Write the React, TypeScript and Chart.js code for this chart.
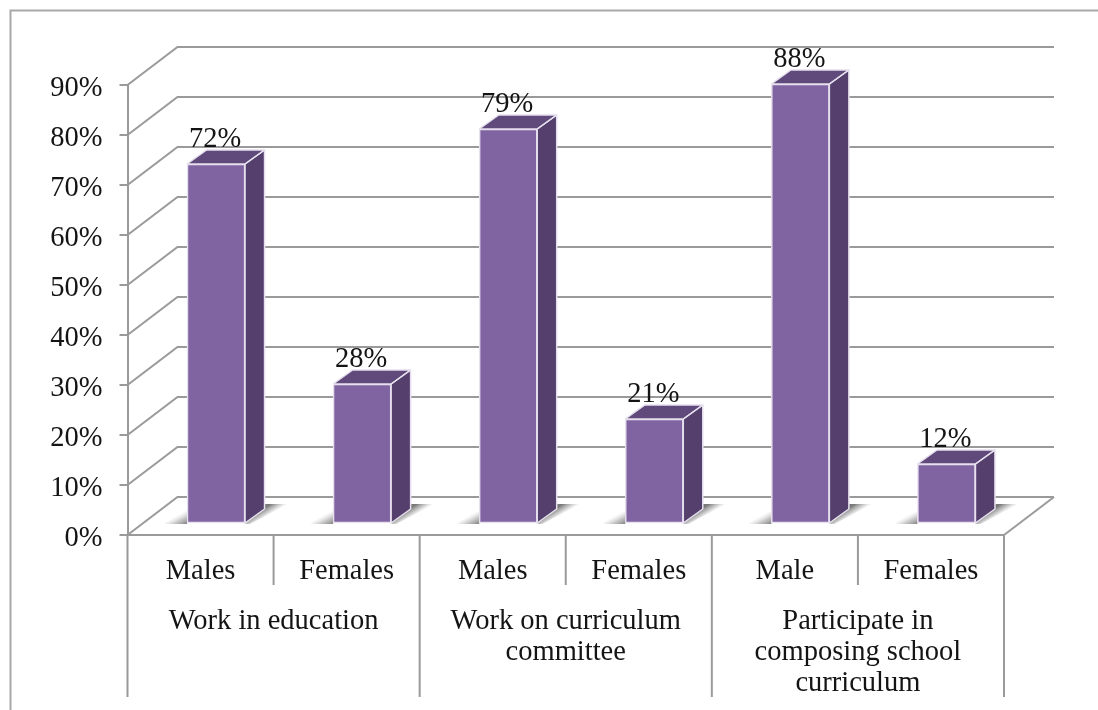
import React, { useEffect, useRef } from "react";
import { Chart, registerables } from "chart.js";

Chart.register(...registerables);

const categories = ["Males", "Females", "Males", "Females", "Male", "Females"];
const values = [72, 28, 79, 21, 88, 12];
const groups = [
  ["Work in education"],
  ["Work on curriculum", "committee"],
  ["Participate in", "composing school", "curriculum"],
];

const FONT = '"Liberation Serif", serif';
const FONT_SIZE = 28.5;
const INK = "#141414";
const LINE = "#9a9a9a";
const FRONT = "#8064a2";
const SIDE = "#543f6d";
const TOP = "#604a7b";
const EDGE = "#e6e0ee";

// Depth of the plot box, and where the bars stand inside it.
const WALL = { dx: 50, dy: -38 };
const SEAT = { dx: 15.5, dy: -11 };
const BAR_DEPTH = { dx: 19.5, dy: -14 };

const stroke = (ctx: CanvasRenderingContext2D, pts: number[][], color = LINE, width = 2) => {
  ctx.beginPath();
  pts.forEach(([x, y], i) => (i ? ctx.lineTo(x, y) : ctx.moveTo(x, y)));
  ctx.strokeStyle = color;
  ctx.lineWidth = width;
  ctx.stroke();
};

const fill = (ctx: CanvasRenderingContext2D, pts: number[][], color: any) => {
  ctx.beginPath();
  pts.forEach(([x, y], i) => (i ? ctx.lineTo(x, y) : ctx.moveTo(x, y)));
  ctx.closePath();
  ctx.fillStyle = color;
  ctx.fill();
};

const box3d = {
  id: "box3d",
  beforeDraw(chart: any) {
    const { ctx, width, height } = chart;
    ctx.save();
    ctx.fillStyle = "#ffffff";
    ctx.fillRect(0, 0, width, height);
    stroke(ctx, [[10.5, height], [10.5, 10.5], [width, 10.5]], "#a8a8a8", 2);
    ctx.restore();
  },
  beforeDatasetsDraw(chart: any) {
    const { ctx, chartArea, scales } = chart;
    const { left, right, bottom } = chartArea;
    ctx.save();

    // Back wall and side wall rules, one per value tick.
    scales.y.ticks.forEach((t: any) => {
      const y = scales.y.getPixelForValue(t.value);
      stroke(ctx, [
        [left, y],
        [left + WALL.dx, y + WALL.dy],
        [right + WALL.dx, y + WALL.dy],
      ]);
    });
    stroke(ctx, [[right, bottom], [right + WALL.dx, bottom + WALL.dy]]);

    // Soft floor shadows either side of each bar.
    const meta = chart.getDatasetMeta(0);
    meta.data.forEach((bar: any) => {
      const { x, base, width: w } = bar.getProps(["x", "base", "width"], true);
      const l = x + SEAT.dx - w / 2;
      const r = x + SEAT.dx + w / 2;
      const b = base + SEAT.dy;
      const gl = ctx.createLinearGradient(l, b + 1, l - 6, b - 10);
      gl.addColorStop(0, "rgba(120,120,120,0.95)");
      gl.addColorStop(0.5, "rgba(160,160,160,0.6)");
      gl.addColorStop(1, "rgba(200,200,200,0)");
      fill(ctx, [[l - 23, b + 1], [l - 8, b - 11], [l, b - 13], [l, b + 1]], gl);
      const gr = ctx.createLinearGradient(r + 37, b - 26, r + 42, b - 18);
      gr.addColorStop(0, "rgba(115,115,115,0.95)");
      gr.addColorStop(0.5, "rgba(160,160,160,0.6)");
      gr.addColorStop(1, "rgba(200,200,200,0)");
      fill(ctx, [
        [r, b + 1],
        [r + BAR_DEPTH.dx, b + BAR_DEPTH.dy - 5],
        [r + 43, b + BAR_DEPTH.dy - 5],
        [r + 5, b + 1],
      ], gr);
    });

    // Bars are seated back from the front edge of the floor.
    ctx.translate(SEAT.dx, SEAT.dy);
  },
  afterDatasetsDraw(chart: any) {
    const { ctx, chartArea, scales, data } = chart;
    ctx.restore();
    ctx.save();

    const meta = chart.getDatasetMeta(0);
    meta.data.forEach((bar: any, i: number) => {
      const { x, y, base, width: w } = bar.getProps(["x", "y", "base", "width"], true);
      const l = x + SEAT.dx - w / 2;
      const r = x + SEAT.dx + w / 2;
      const t = y + SEAT.dy;
      const b = base + SEAT.dy;
      const { dx, dy } = BAR_DEPTH;
      const top = [[l, t], [r, t], [r + dx, t + dy], [l + dx, t + dy]];
      const side = [[r, t], [r + dx, t + dy], [r + dx, b + dy], [r, b]];
      fill(ctx, top, TOP);
      fill(ctx, side, SIDE);
      ctx.lineJoin = "round";
      stroke(ctx, [...top, top[0]], EDGE, 1.5);
      stroke(ctx, [...side, side[0]], EDGE, 1.5);

      // Value above each bar.
      ctx.fillStyle = INK;
      ctx.font = `${FONT_SIZE}px ${FONT}`;
      ctx.textAlign = "center";
      ctx.textBaseline = "middle";
      ctx.fillText(`${data.datasets[0].data[i]}%`, x + SEAT.dx - 1, t - 24);
    });

    // Category dividers below the axis, long ones between groups.
    const { bottom } = chartArea;
    const xs = scales.x;
    const band = xs.getPixelForValue(1) - xs.getPixelForValue(0);
    categories.forEach((_, i) => {
      const edge = xs.getPixelForValue(i) - band / 2;
      stroke(ctx, [[edge, bottom], [edge, i % 2 ? bottom + 50 : bottom + 162]]);
    });
    const end = xs.getPixelForValue(categories.length - 1) + band / 2;
    stroke(ctx, [[end, bottom], [end, bottom + 162]]);

    // Group captions, centred under their pair of categories.
    ctx.fillStyle = INK;
    ctx.font = `${FONT_SIZE}px ${FONT}`;
    ctx.textAlign = "center";
    ctx.textBaseline = "middle";
    groups.forEach((lines, g) => {
      const cx = xs.getPixelForValue(g * 2) + band / 2;
      lines.forEach((text, n) => ctx.fillText(text, cx, bottom + 87 + n * 31));
    });
    ctx.restore();
  },
};

export default function App() {
  const ref = useRef<HTMLCanvasElement>(null);

  useEffect(() => {
    const chart = new Chart(ref.current!, {
      type: "bar",
      data: {
        labels: categories,
        datasets: [
          {
            data: values,
            backgroundColor: FRONT,
            borderColor: EDGE,
            borderWidth: 1.5,
            borderSkipped: false,
            barThickness: 58,
          },
        ],
      },
      plugins: [box3d],
      options: {
        animation: false,
        responsive: false,
        layout: { padding: { left: 0, right: 94, top: 85, bottom: 0 } },
        plugins: { legend: { display: false }, tooltip: { enabled: false } },
        scales: {
          x: {
            afterFit: (s: any) => {
              s.height = 175;
            },
            grid: { display: false },
            border: { display: true, color: LINE, width: 2 },
            ticks: {
              color: INK,
              font: { family: FONT, size: FONT_SIZE },
              padding: 11,
              autoSkip: false,
              maxRotation: 0,
            },
          },
          y: {
            min: 0,
            max: 90,
            afterFit: (s: any) => {
              s.width = 127.5;
            },
            grid: { drawOnChartArea: false, drawTicks: true, tickLength: 8, color: LINE, lineWidth: 2 },
            border: { display: true, color: LINE, width: 2 },
            ticks: {
              stepSize: 10,
              color: INK,
              padding: 17,
              labelOffset: 4,
              font: { family: FONT, size: FONT_SIZE },
              callback: (v: any) => `${v}%`,
            },
          },
        },
      },
    });
    return () => chart.destroy();
  }, []);

  return (
    <div style={{ position: "absolute", left: 0, top: 0, width: 1098, height: 710 }}>
      <canvas ref={ref} width={1098} height={710} style={{ display: "block" }} />
    </div>
  );
}
